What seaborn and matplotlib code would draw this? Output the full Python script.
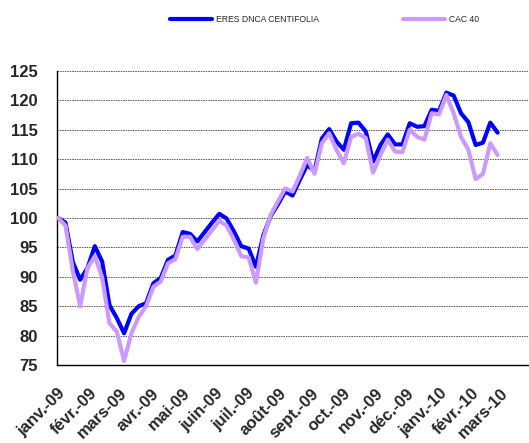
import pandas as pd
import numpy as np
import matplotlib
matplotlib.use("Agg")
import matplotlib.pyplot as plt
import matplotlib.dates as mdates
import seaborn as sns

# weekly values (base 100)
eres_dnca = [100.0, 99.2, 92.5, 89.5, 91.5, 95.2, 92.6, 85.2, 83.0, 80.4,
             83.7, 85.0, 85.5, 88.9, 89.8, 92.9, 93.6, 97.6, 97.3, 96.0,
             97.6, 99.2, 100.7, 99.9, 97.7, 95.2, 94.8, 91.7, 97.0, 100.3,
             102.3, 104.5, 103.8, 106.5, 109.0, 108.0, 113.5, 115.1, 113.0, 111.6,
             116.1, 116.2, 114.7, 109.6, 112.4, 114.2, 112.5, 112.5, 116.1, 115.5,
             115.6, 118.4, 118.2, 121.3, 120.8, 117.8, 116.3, 112.4, 112.8, 116.2,
             114.5]
cac40 = [100.0, 98.7, 91.0, 85.0, 91.5, 93.5, 89.9, 82.1, 80.7, 75.7,
         80.4, 83.2, 85.0, 88.3, 89.2, 92.3, 93.0, 96.8, 96.8, 94.7,
         96.3, 97.9, 99.5, 98.7, 96.3, 93.5, 93.3, 89.0, 96.5, 100.5,
         102.8, 105.0, 104.5, 107.2, 110.2, 107.5, 112.7, 114.4, 111.6, 109.3,
         113.8, 114.3, 113.6, 107.7, 110.7, 113.3, 111.3, 111.2, 115.0, 113.8,
         113.3, 117.8, 117.6, 120.9, 117.8, 113.8, 111.6, 106.6, 107.5, 112.7,
         110.7]
dates = pd.date_range("2009-01-02", periods=len(eres_dnca), freq="7D")

month_ticks = pd.date_range("2009-01-01", "2010-03-01", freq="MS")
month_labels = ["janv.-09", "févr.-09", "mars-09", "avr.-09", "mai-09", "juin-09",
                "juil.-09", "août-09", "sept.-09", "oct.-09", "nov.-09", "déc.-09",
                "janv.-10", "févr.-10", "mars-10"]
y_ticks = list(range(75, 126, 5))

series_names = ["ERES DNCA CENTIFOLIA", "CAC 40"]
colors = ["#0000FF", "#CC99FF"]

df = pd.DataFrame({"date": dates, series_names[0]: eres_dnca, series_names[1]: cac40})
long_df = df.melt(id_vars="date", var_name="serie", value_name="valeur")

sns.set_style("white")
plt.rcParams["font.family"] = ["Liberation Sans", "DejaVu Sans"]

fig = plt.figure(figsize=(5.29, 4.43), dpi=100)
ax = fig.add_axes([0.108, 0.176, 0.892, 0.664])

sns.lineplot(data=long_df, x="date", y="valeur", hue="serie",
             hue_order=series_names, palette=colors, linewidth=3.0, ax=ax)

# CAC 40 drawn over the fund line
ax.lines[1].set_zorder(3)
ax.lines[0].set_zorder(2)

ax.set_ylim(75, 125)
ax.set_xlim(pd.Timestamp("2009-01-01"), pd.Timestamp("2010-03-28"))
ax.set_yticks(y_ticks)
ax.set_yticklabels([str(v) for v in y_ticks], fontsize=12, fontweight="bold")
ax.set_xticks(month_ticks)
ax.set_xticklabels(month_labels, fontsize=12, fontweight="bold", rotation=45,
                   ha="right", rotation_mode="anchor")
ax.tick_params(axis="both", direction="out", length=4, width=0.8, color="#808080")
ax.tick_params(axis="x", pad=11)
ax.tick_params(axis="y", pad=10)

ax.set_xlabel("")
ax.set_ylabel("")

for v in y_ticks[1:]:
    ax.axhline(v, color="#555555", lw=0.7, linestyle=(0, (1.5, 1)), zorder=1)

for side in ["top", "right"]:
    ax.spines[side].set_visible(False)
for side in ["left", "bottom"]:
    ax.spines[side].set_color("black")
    ax.spines[side].set_linewidth(1.0)

ax.get_legend().remove()
handles = ax.lines[:2]
fig.legend(handles, series_names, loc="center", bbox_to_anchor=(0.614, 0.957),
           ncol=2, frameon=False, fontsize=6.2, handlelength=4.8,
           columnspacing=9.8, handletextpad=0.5)

fig.savefig("out.png", dpi=100)
